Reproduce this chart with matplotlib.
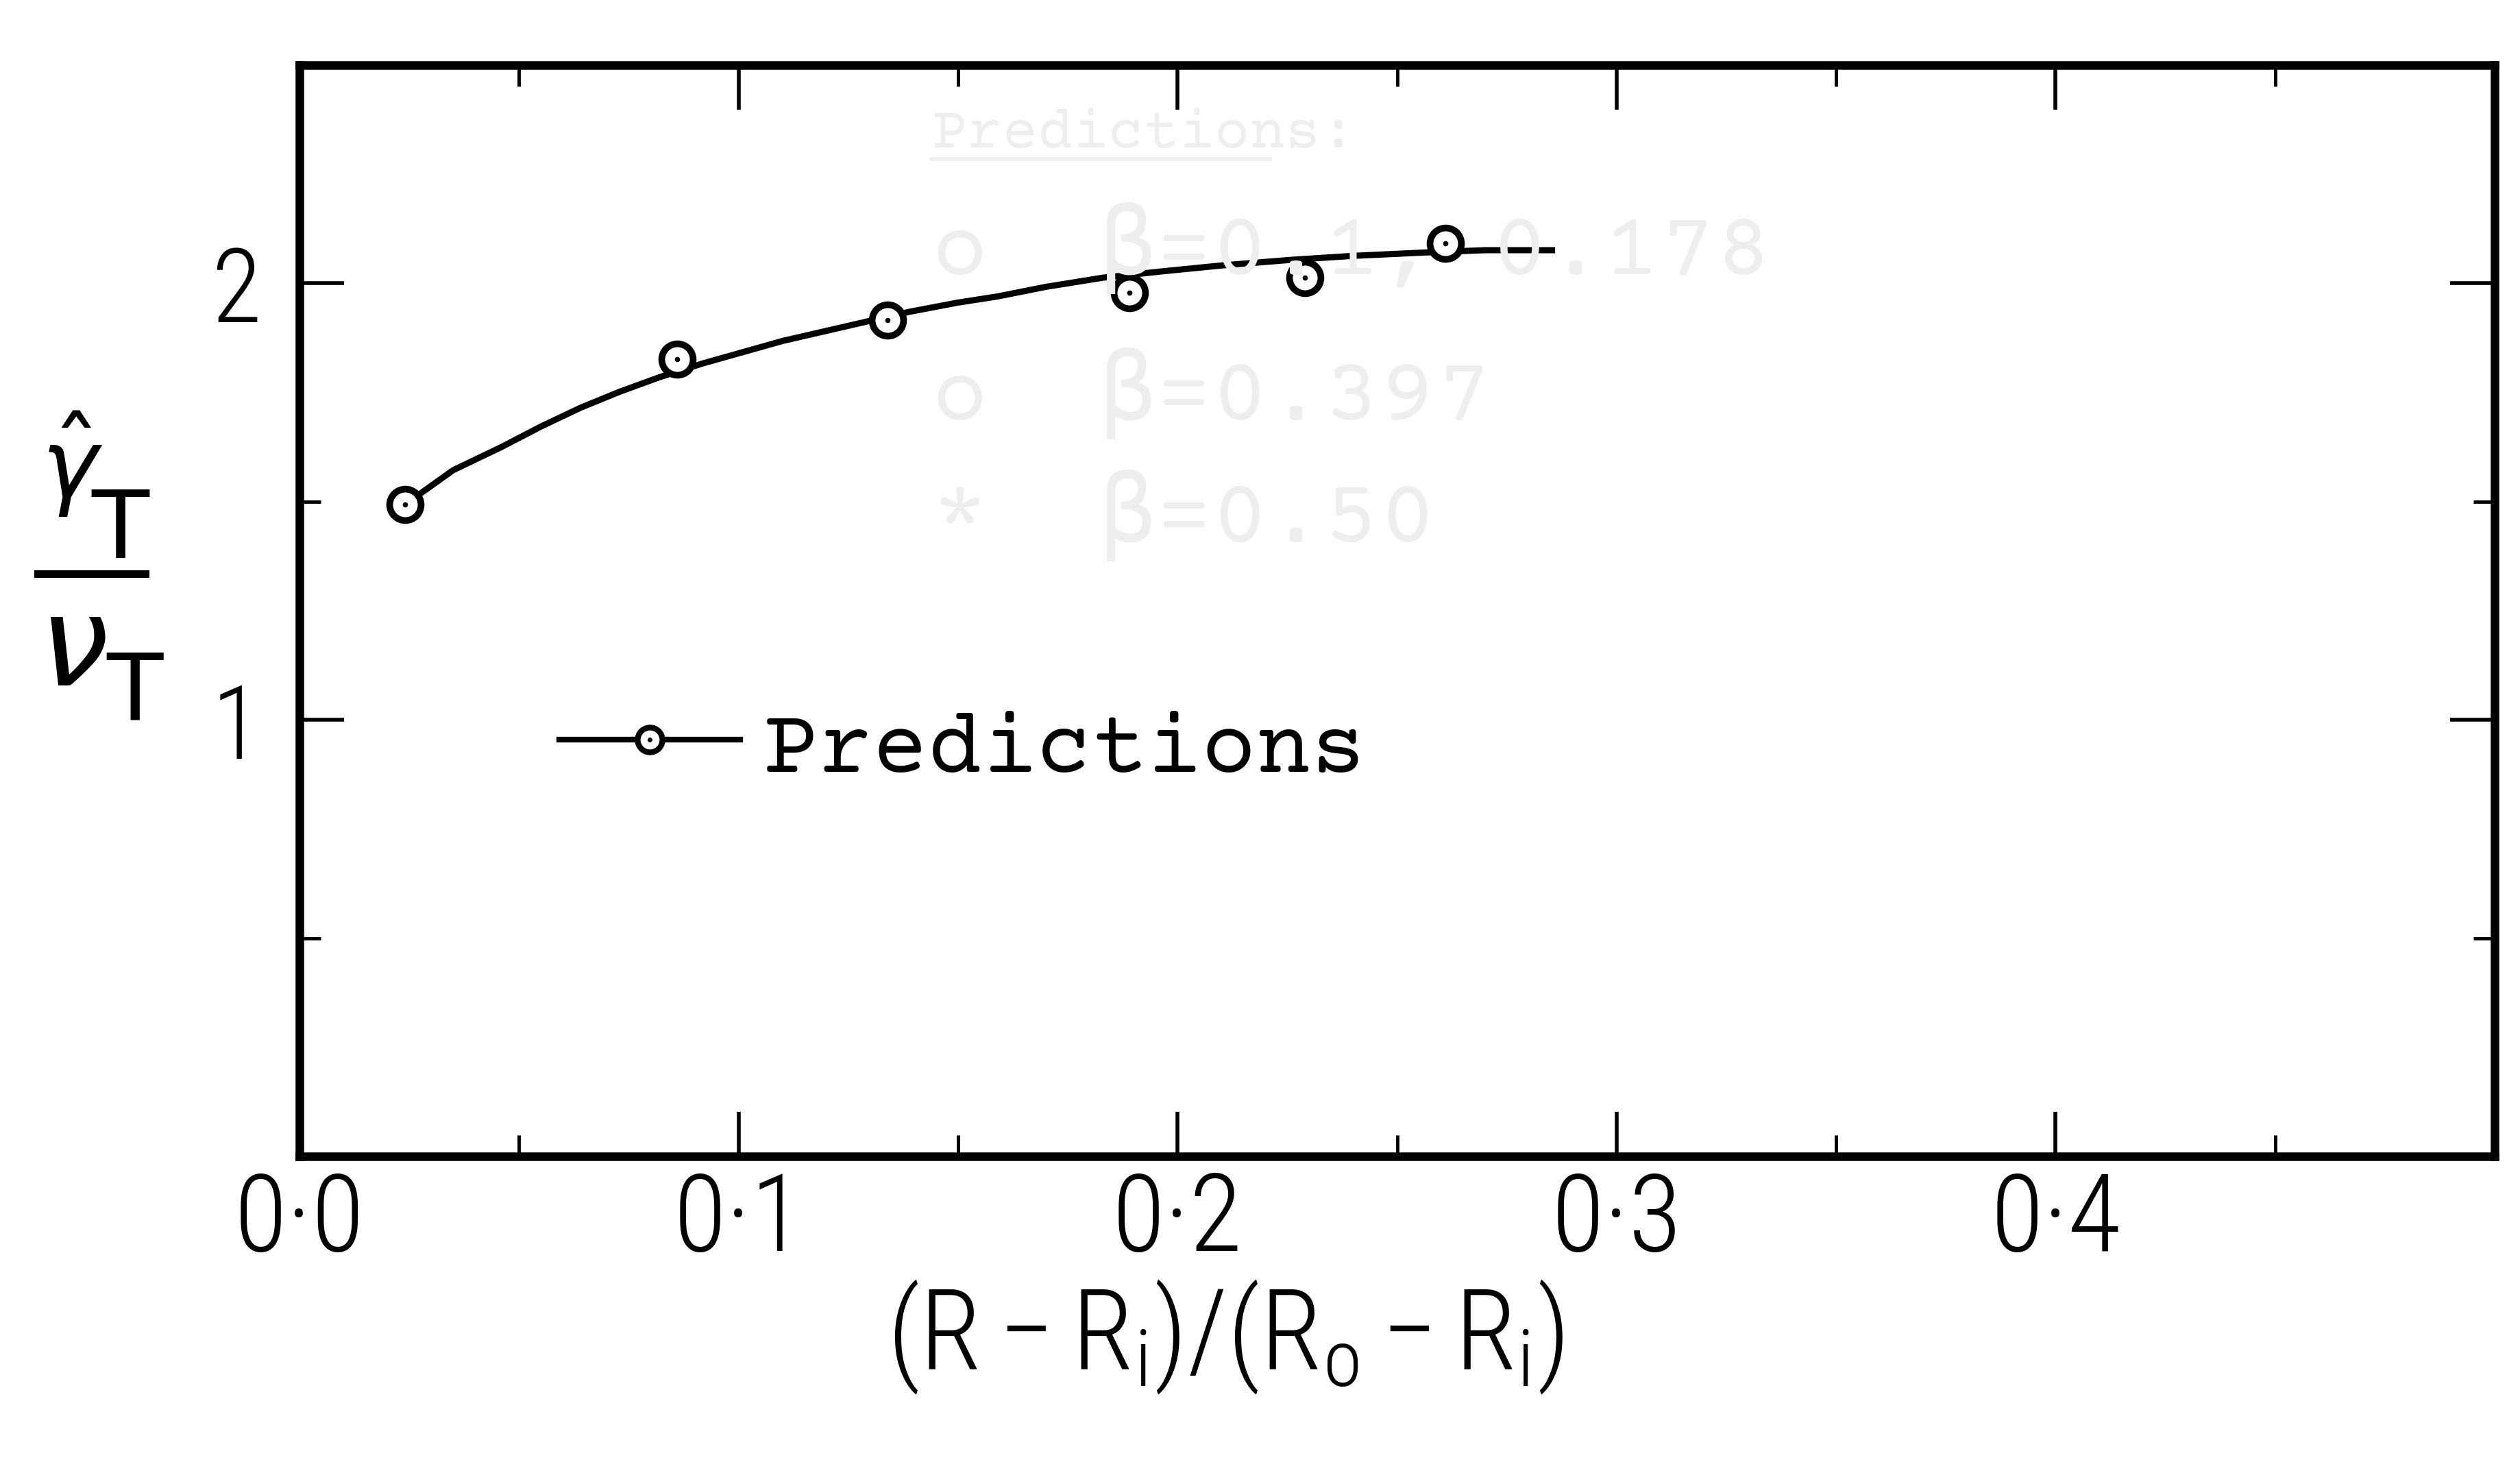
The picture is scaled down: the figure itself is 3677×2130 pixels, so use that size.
import matplotlib
matplotlib.use('Agg')
import matplotlib.pyplot as plt
from matplotlib import font_manager
from matplotlib.lines import Line2D
from matplotlib.ticker import MultipleLocator, FixedLocator, FuncFormatter

# predicted values of gamma_T / nu_T across the gap
x_pred = [0.024, 0.086, 0.134, 0.189, 0.229, 0.261]
y_pred = [1.493, 1.826, 1.916, 1.978, 2.013, 2.091]

# hand-drawn curve through the predictions
x_curve = [0.024, 0.035, 0.046, 0.055, 0.064, 0.073, 0.082, 0.092, 0.110, 0.129, 0.139,
           0.150, 0.159, 0.170, 0.183, 0.196, 0.210, 0.226, 0.240, 0.257, 0.270, 0.286]
y_curve = [1.493, 1.572, 1.625, 1.672, 1.715, 1.752, 1.785, 1.817, 1.868, 1.912, 1.935,
           1.956, 1.970, 1.992, 2.013, 2.027, 2.041, 2.054, 2.063, 2.071, 2.076, 2.076]

x_major = [0.0, 0.1, 0.2, 0.3, 0.4]
y_major = [1, 2]
y_minor = [0.5, 1.5]

legend_label = 'Predictions'
faint_lines = ['Predictions:', 'o  \u03b2=0.1, 0.178', 'o  \u03b2=0.397', '*  \u03b2=0.50']

W, H = 3677, 2130
names = {f.name for f in font_manager.fontManager.ttflist}


def first_font(candidates, default):
    for c in candidates:
        if c in names:
            return c
    return default


narrow = first_font(['Roboto Condensed', 'Archivo Narrow', 'PT Sans Narrow',
                     'Liberation Sans Narrow', 'Barlow Condensed'], 'Liberation Sans')
mono = first_font(['Courier Prime', 'Cutive Mono', 'Liberation Mono'], 'DejaVu Sans Mono')

plt.rcParams['mathtext.fontset'] = 'custom'
plt.rcParams['mathtext.rm'] = narrow + ':light'
plt.rcParams['mathtext.it'] = narrow + ':light'
plt.rcParams['mathtext.sf'] = narrow + ':light'


def fpos(px, py):
    return px / W, 1 - py / H


fig = plt.figure(figsize=(W / 100, H / 100), dpi=100)
ax = fig.add_axes([437 / W, 1 - 1687 / H, 3203 / W, 1592 / H])

ax.plot(x_curve, y_curve, color='black', lw=6.5, solid_capstyle='butt', zorder=2)
ax.plot(x_pred, y_pred, 'o', ms=33, mfc='white', mec='black', mew=7, zorder=3)
ax.plot(x_pred, y_pred, 'o', ms=4.5, color='black', zorder=4)

ax.set_xlim(0, 0.5)
ax.set_ylim(0, 2.5)
ax.xaxis.set_major_locator(FixedLocator(x_major))
ax.xaxis.set_minor_locator(MultipleLocator(0.05))
ax.yaxis.set_major_locator(FixedLocator(y_major))
ax.yaxis.set_minor_locator(FixedLocator(y_minor))
ax.xaxis.set_major_formatter(FuncFormatter(lambda v, p: f'{v:.1f}'.replace('.', '\u00b7')))
ax.yaxis.set_major_formatter(FuncFormatter(lambda v, p: f'{v:.0f}'))

ax.tick_params(which='both', direction='in', top=True, right=True, colors='black')
ax.tick_params(which='major', length=47, width=4)
ax.tick_params(which='minor', length=22, width=3.5)
ax.tick_params(axis='x', which='major', pad=14, labelsize=114)
ax.tick_params(axis='y', which='major', pad=40, labelsize=108)
for lab in ax.get_xticklabels() + ax.get_yticklabels():
    lab.set_family(narrow)
    lab.set_fontweight('light')
for sp in ax.spines.values():
    sp.set_linewidth(9)

ax.set_xlabel(r'$(\mathrm{R} - \mathrm{R}_\mathrm{i})/(\mathrm{R}_\mathrm{o} - \mathrm{R}_\mathrm{i})$',
              fontsize=118)
ax.xaxis.set_label_coords((1788 - 437) / 3203, (1687 - 1865) / 1592)

# stacked ratio used as the y label
fig.text(*fpos(105, 726), r'$\hat{\gamma}$', fontsize=100, ha='center', va='baseline',
         math_fontfamily='dejavusans')
fig.text(*fpos(175, 814), 'T', fontsize=99, ha='center', va='baseline', family='DejaVu Sans')
x0, y0 = fpos(55, 837)
x1, _ = fpos(212, 837)
fig.add_artist(Line2D([x0, x1], [y0, y0], transform=fig.transFigure, color='black', lw=8))
fig.text(*fpos(106, 1000), r'$\nu$', fontsize=130, ha='center', va='baseline',
         math_fontfamily='dejavusans')
fig.text(*fpos(197, 1050), 'T', fontsize=97, ha='center', va='baseline', family='DejaVu Sans')

h_line = Line2D([], [], color='black', lw=6, marker='o', ms=26, mfc='white', mec='black', mew=6)
h_dot = Line2D([], [], ls='none', marker='o', ms=4, color='black')
ax.legend([(h_line, h_dot)], [legend_label], loc='center left',
          bbox_to_anchor=((816 - 437) / 3203, (1687 - 1092) / 1592),
          frameon=False, borderpad=0, borderaxespad=0, handlelength=1.98,
          handletextpad=0.25, prop={'family': mono, 'size': 96})

# faint lettering showing through the sheet
ghost = '#eeeeee'
fig.text(*fpos(1360, 215), faint_lines[0], fontsize=62, family=[mono, 'DejaVu Sans Mono'],
         color=ghost, va='baseline')
ux0, uy = fpos(1360, 232)
ux1, _ = fpos(1853, 232)
fig.add_artist(Line2D([ux0, ux1], [uy, uy], transform=fig.transFigure, color=ghost, lw=4))
for txt, py in zip(faint_lines[1:], [400, 612, 790]):
    fig.text(*fpos(1360, py), txt, fontsize=98, family=[mono, 'DejaVu Sans Mono'],
             color=ghost, va='baseline')

fig.savefig('out.png', dpi=100, facecolor='white')
